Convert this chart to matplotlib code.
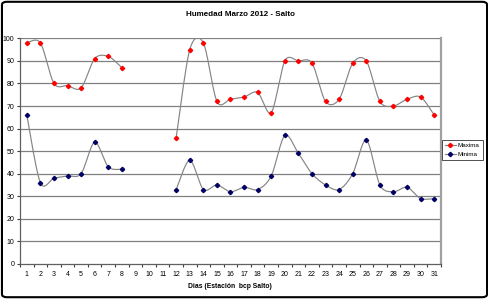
import numpy as np
import matplotlib
matplotlib.use("Agg")
import matplotlib.pyplot as plt
from matplotlib.patches import FancyBboxPatch

plt.rcParams["font.family"] = ["Liberation Sans", "DejaVu Sans"]

days = list(range(1, 32))
maxima = [98, 98, 80, 79, 78, 91, 92, 87, None, None, None,
          56, 95, 98, 72, 73, 74, 76, 67, 90, 90, 89, 72, 73, 89, 90, 72, 70, 73, 74, 66]
minima = [66, 36, 38, 39, 40, 54, 43, 42, None, None, None,
          33, 46, 33, 35, 32, 34, 33, 39, 57, 49, 40, 35, 33, 40, 55, 35, 32, 34, 29, 29]
title = "Humedad Marzo 2012 - Salto"
xlabel = "Dias (Estación  bcp Salto)"
series_names = ["Maxima", "Minima"]
marker_colors = ["#ff0000", "#000066"]


def segments(xs, ys):
    segs, cur = [], []
    for x, y in zip(xs, ys):
        if y is None:
            if cur:
                segs.append(cur)
            cur = []
        else:
            cur.append((x, y))
    if cur:
        segs.append(cur)
    return segs


def smooth(seg, n=20, k=0.15):
    pts = np.array(seg, dtype=float)
    if len(pts) < 2:
        return pts[:, 0], pts[:, 1]
    P = np.vstack([pts[0], pts, pts[-1]])
    out = []
    t = np.linspace(0, 1, n)
    for i in range(1, len(P) - 2):
        p0, p1, p2, p3 = P[i - 1], P[i], P[i + 1], P[i + 2]
        c1 = p1 + (p2 - p0) * k
        c2 = p2 - (p3 - p1) * k
        b = ((1 - t) ** 3)[:, None] * p1 + (3 * (1 - t) ** 2 * t)[:, None] * c1 \
            + (3 * (1 - t) * t ** 2)[:, None] * c2 + (t ** 3)[:, None] * p2
        out.append(b if i == 1 else b[1:])
    out = np.vstack(out)
    return out[:, 0], out[:, 1]


fig = plt.figure(figsize=(4.89, 2.99), dpi=100)
fig.patch.set_facecolor("white")
ax = fig.add_axes([20 / 489, 1 - 264 / 299, 421 / 489, (264 - 38.3) / 299])

for vals, name, mc in zip([maxima, minima], series_names, marker_colors):
    for seg in segments(days, vals):
        sx, sy = smooth(seg)
        ax.plot(sx, sy, color="#858585", lw=0.85, zorder=3)
    xs = [d for d, v in zip(days, vals) if v is not None]
    ys = [v for v in vals if v is not None]
    ax.plot(xs, ys, linestyle="none", marker="D", markersize=2.2,
            markerfacecolor=mc, markeredgecolor=mc, zorder=4)
    ax.plot([], [], color="#858585", lw=0.85, marker="D", markersize=2.2,
            markerfacecolor=mc, markeredgecolor=mc, label=name)

ax.set_xlim(0.5, 31.5)
ax.set_ylim(0, 100)
ax.set_yticks(range(0, 101, 10))
ax.set_xticks(days)
ax.set_xticks(np.arange(0.5, 32, 1), minor=True)
ax.tick_params(axis="x", which="major", length=0, labelsize=5, pad=5, colors="#000000")
ax.tick_params(axis="x", which="minor", length=2.5, width=0.8, direction="out", color="#404040")
ax.tick_params(axis="y", length=2.5, width=0.8, labelsize=5, pad=1.5, color="#404040")
for y in range(10, 101, 10):
    ax.axhline(y, color="#808080", lw=0.9, zorder=1)
ax.spines["top"].set_visible(False)
ax.spines["right"].set_color("#a0a0a0")
ax.spines["right"].set_linewidth(1.6)
ax.spines["left"].set_color("#606060")
ax.spines["left"].set_linewidth(0.9)
ax.spines["bottom"].set_color("#606060")
ax.spines["bottom"].set_linewidth(0.9)

fig.text(241 / 489, 1 - 14 / 299, title, ha="center", va="center",
         fontsize=5.8, fontweight="bold")
fig.text(230 / 489, 1 - 286 / 299, xlabel, ha="center", va="center",
         fontsize=4.9, fontweight="bold")

leg = fig.legend(loc="upper left", bbox_to_anchor=(442 / 489, 1 - 140 / 299),
                 fontsize=4.5, frameon=True, fancybox=False, handlelength=1.8,
                 borderpad=0.45, labelspacing=0.55, handletextpad=0.3, borderaxespad=0)
leg.get_frame().set_edgecolor("#000000")
leg.get_frame().set_linewidth(0.6)

border = FancyBboxPatch((0.004, 0.006), 0.992, 0.988, boxstyle="round,pad=0,rounding_size=0.01",
                        transform=fig.transFigure, fill=False, edgecolor="black", lw=1.5)
fig.patches.append(border)

fig.savefig("out.png", dpi=100)
